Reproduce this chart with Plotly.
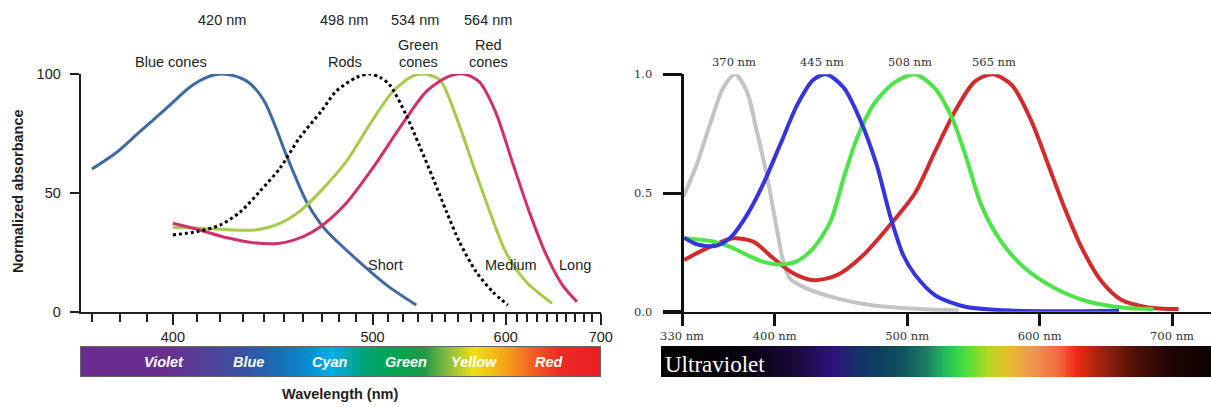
import numpy as np
import plotly.graph_objects as go

W, H = 1211, 407

# ---------------- data ----------------
# Left panel: normalized absorbance (0-100) vs wavelength (nm)
BLUE_CONE_NM = [370, 379, 387, 397.5, 407, 414, 420, 426, 432, 437, 441, 446, 451, 462, 469, 474, 488, 509, 529]
BLUE_CONE_V = [60, 67.3, 75.5, 85.6, 94.5, 98.6, 100, 99.3, 97, 92.8, 87.5, 77.5, 66.5, 46, 37.5, 33, 23.4, 11.2, 2.8]
ROD_NM = [400, 410, 420, 429, 438, 448, 458, 470, 478, 490, 498, 505, 511, 522, 531, 541, 551, 561, 574.5, 588.5, 602]
ROD_V = [32.3, 33.7, 36.5, 42, 50.5, 60.3, 73, 84.5, 92.6, 98.5, 100, 98.5, 95.4, 82.7, 70.1, 56.1, 42.1, 29.4, 16.8, 8.4, 2.8]
GREEN_CONE_NM = [400, 411, 423, 436, 448, 458, 469, 484, 498, 513, 526, 534, 546, 558, 572, 586, 600, 619, 645]
GREEN_CONE_V = [35.5, 35.1, 34.5, 34.4, 37.2, 42.1, 50.3, 63.1, 78.5, 92.6, 99, 100, 97.5, 82.7, 61.7, 42.1, 25.2, 12.6, 3.5]
RED_CONE_NM = [400, 411, 423, 435, 448, 460, 469, 484, 500, 517.5, 536, 552, 564, 577, 591, 606, 622, 639, 656, 672]
RED_CONE_V = [37.2, 34.4, 31.1, 29, 28.8, 31.6, 35.5, 45.6, 60.3, 77.2, 92.6, 98.8, 100, 96.8, 84.1, 63.1, 42.1, 23.9, 11.2, 4.2]

LEFT_X_TICKS = [400, 500, 600, 700]
LEFT_X_MINOR = [370, 380, 390, 410, 420, 430, 440, 450, 460, 470, 480, 490, 510, 520, 530, 540,
                550, 560, 570, 580, 590, 610, 620, 630, 640, 650, 660, 670, 680, 690]
LEFT_Y_TICKS = [0, 50, 100]
LEFT_PEAKS = ["420 nm", "498 nm", "534 nm", "564 nm"]
BAND_NAMES = ["Violet", "Blue", "Cyan", "Green", "Yellow", "Red"]

# Right panel: relative sensitivity (0-1) vs wavelength (nm)
UV_NM = [331, 341, 351, 361, 370, 379, 386, 394, 401.5, 406.5, 411.5, 424, 447, 472, 510, 539]
UV_V = [0.485, 0.618, 0.787, 0.941, 1.0, 0.927, 0.772, 0.576, 0.351, 0.211, 0.14, 0.098, 0.056, 0.028, 0.011, 0.005]
S_NM = [331.7, 341, 355, 366, 379, 391, 404, 417, 429, 439, 452, 464, 477, 487, 497, 506, 521, 544, 581, 620, 660]
S_V = [0.312, 0.284, 0.277, 0.309, 0.407, 0.534, 0.702, 0.871, 0.976, 1.0, 0.944, 0.815, 0.618, 0.407, 0.239, 0.155, 0.070, 0.021, 0.004, 0.002, 0.004]
M_NM = [331.7, 354, 366, 379, 391, 404, 417, 429, 442, 452, 462, 474.5, 489.5, 506, 521, 534, 544, 556, 571, 589, 612, 637, 662, 686]
M_V = [0.309, 0.295, 0.274, 0.239, 0.211, 0.199, 0.213, 0.267, 0.379, 0.562, 0.730, 0.871, 0.962, 1.0, 0.941, 0.815, 0.66, 0.449, 0.295, 0.183, 0.098, 0.042, 0.018, 0.011]
L_NM = [331.7, 348.6, 368.7, 383.8, 399, 414, 429, 447, 467, 487, 506, 521, 536, 551, 564.3, 579, 594, 606.6, 619, 632, 647, 662, 682, 705]
L_V = [0.218, 0.267, 0.309, 0.295, 0.225, 0.162, 0.133, 0.154, 0.239, 0.365, 0.50, 0.674, 0.843, 0.969, 1.0, 0.955, 0.801, 0.618, 0.435, 0.267, 0.126, 0.049, 0.018, 0.011]

RIGHT_X_TICKS = [330, 400, 500, 600, 700]
RIGHT_Y_TICKS = [0.0, 0.5, 1.0]
RIGHT_PEAKS = ["370 nm", "445 nm", "508 nm", "565 nm"]

# ---------------- styles ----------------
LEFT_SCALE = [
    [0.0, "#6b2c8f"], [0.166, "#6a2e91"], [0.249, "#4f449b"], [0.318, "#3553a3"],
    [0.386, "#1670b8"], [0.441, "#0590d2"], [0.482, "#00aeea"], [0.545, "#00a47a"],
    [0.599, "#00a651"], [0.661, "#1e9a48"], [0.702, "#80b842"], [0.757, "#efe014"],
    [0.819, "#f7a21b"], [0.866, "#f26522"], [0.921, "#ee2a24"], [1.0, "#ed1c24"],
]
RIGHT_SCALE = [
    [0.0, "#000000"], [0.153, "#07020d"], [0.253, "#1c0a40"], [0.316, "#2d1480"],
    [0.356, "#16306a"], [0.398, "#0c3f5f"], [0.444, "#11565e"], [0.48, "#1a7a62"],
    [0.522, "#25c45c"], [0.556, "#4fe03a"], [0.596, "#b6d824"], [0.631, "#e8bc2c"],
    [0.671, "#f09a50"], [0.722, "#f26a40"], [0.755, "#f02a12"], [0.795, "#a82410"],
    [0.855, "#551208"], [0.92, "#240505"], [1.0, "#0a0000"],
]

SANS = "Liberation Sans, Arial, Helvetica, sans-serif"
SERIF = "DejaVu Serif, serif"
INK = "#231f20"


def px(x):
    return x / W


def py(y):
    return 1 - y / H


def inv(nm):
    # reciprocal (wavenumber-like) scale used by the left panel's axis
    return -1000.0 / np.asarray(nm, dtype=float)


# right-panel linear scale: pixel = 245 + 1.3243 * nm
R_A, R_B = 245.0, 1.3243

fig = go.Figure()

left_series = [
    (BLUE_CONE_NM, BLUE_CONE_V, "#3f6aa2", "solid"),
    (GREEN_CONE_NM, GREEN_CONE_V, "#a6ca4a", "solid"),
    (RED_CONE_NM, RED_CONE_V, "#d1306d", "solid"),
    (ROD_NM, ROD_V, "#000000", "dot"),
]
for nm, v, col, dash in left_series:
    fig.add_trace(go.Scatter(x=inv(nm), y=v, mode="lines", xaxis="x", yaxis="y",
                             line=dict(color=col, width=3, dash=dash, shape="spline", smoothing=0.8),
                             hoverinfo="skip", showlegend=False))

right_series = [
    (UV_NM, UV_V, "#c4c4c4"),
    (L_NM, L_V, "#d22b2b"),
    (M_NM, M_V, "#4de447"),
    (S_NM, S_V, "#3535dd"),
]
for nm, v, col in right_series:
    fig.add_trace(go.Scatter(x=nm, y=v, mode="lines", xaxis="x2", yaxis="y2",
                             line=dict(color=col, width=4, shape="spline", smoothing=0.8),
                             hoverinfo="skip", showlegend=False))

N = 600
grad = np.linspace(0, 1, N)
fig.add_trace(go.Heatmap(z=[grad], x=grad, y=[0], colorscale=LEFT_SCALE, showscale=False,
                         xaxis="x3", yaxis="y3", hoverinfo="skip"))
fig.add_trace(go.Heatmap(z=[grad], x=grad, y=[0], colorscale=RIGHT_SCALE, showscale=False,
                         xaxis="x4", yaxis="y4", hoverinfo="skip"))

hidden = dict(showgrid=False, zeroline=False, showticklabels=False, ticks="", automargin=False)

fig.update_layout(
    template="none",
    width=W, height=H, margin=dict(l=0, r=0, t=0, b=0, pad=0, autoexpand=False),
    paper_bgcolor="white", plot_bgcolor="rgba(0,0,0,0)", showlegend=False,
    xaxis=dict(domain=[px(80.7), px(601)], range=[inv(366.2), inv(700.3)], anchor="y", automargin=False,
               showline=True, linecolor=INK, linewidth=2, showgrid=False, zeroline=False,
               tickmode="array", tickvals=inv(LEFT_X_TICKS), ticktext=[str(t) for t in LEFT_X_TICKS],
               ticks="outside", ticklen=11, tickwidth=1.5, tickcolor=INK,
               tickfont=dict(family=SANS, size=14.5, color=INK),
               minor=dict(tickmode="array", tickvals=inv(LEFT_X_MINOR), ticks="outside",
                          ticklen=8, tickwidth=1.5, tickcolor=INK)),
    yaxis=dict(domain=[py(311.7), py(74)], range=[0, 100], anchor="x", automargin=False,
               showline=True, linecolor=INK, linewidth=2, showgrid=False, zeroline=False,
               tickmode="array", tickvals=LEFT_Y_TICKS, ticks="outside", ticklen=9,
               tickwidth=1.5, tickcolor=INK, ticklabelstandoff=6,
               tickfont=dict(family=SANS, size=14.5, color=INK)),
    xaxis2=dict(domain=[px(663), 1.0], range=[(663 - R_A) / R_B, (1211 - R_A) / R_B], anchor="y2",
                automargin=False,
                showline=True, linecolor="#111111", linewidth=2, showgrid=False, zeroline=False,
                tickmode="array", tickvals=RIGHT_X_TICKS, ticktext=[f"{t} nm" for t in RIGHT_X_TICKS],
                ticks="outside", ticklen=12, tickwidth=2.5, tickcolor="#111111",
                tickfont=dict(family=SERIF, size=11.5, color="#333333")),
    yaxis2=dict(domain=[py(311.7), py(74.3)], range=[0, 1], anchor="free", position=px(682.3),
                automargin=False,
                showline=True, linecolor="#111111", linewidth=2.5, showgrid=False, zeroline=False,
                tickmode="array", tickvals=RIGHT_Y_TICKS, ticktext=[f"{t:.1f}" for t in RIGHT_Y_TICKS],
                ticks="outside", ticklen=19, tickwidth=2.5, tickcolor="#111111", ticklabelstandoff=8,
                tickfont=dict(family=SERIF, size=11.5, color="#333333")),
    xaxis3=dict(domain=[px(81), px(600)], range=[0, 1], anchor="y3", showline=True, mirror=True,
                linecolor="#666666", linewidth=1, **hidden),
    yaxis3=dict(domain=[py(376), py(347)], range=[-0.5, 0.5], anchor="x3", showline=True, mirror=True,
                linecolor="#666666", linewidth=1, **hidden),
    xaxis4=dict(domain=[px(661), 1.0], range=[0, 1], anchor="y4", showline=False, **hidden),
    yaxis4=dict(domain=[py(377), py(346)], range=[-0.5, 0.5], anchor="x4", showline=False, **hidden),
)

ann = []


def label(text, x, y, size=14.5, family=SANS, color=INK, **kw):
    ann.append(dict(text=text, x=px(x), y=py(y), xref="paper", yref="paper", showarrow=False,
                    xanchor=kw.pop("xanchor", "center"), yanchor="middle",
                    font=dict(family=family, size=size, color=color), **kw))


# left panel labels
for t, x in zip(LEFT_PEAKS, [222, 344, 415, 488]):
    label(t, x, 20)
label("Blue cones", 170.5, 62)
label("Rods", 345, 62)
label("Green", 418, 45)
label("cones", 418, 62)
label("Red", 488.5, 45)
label("cones", 488.5, 62)
label("Short", 386, 265)
label("Medium", 511, 265)
label("Long", 575, 265)
label("<b>Normalized absorbance</b>", 18, 191, textangle=-90)
label("<b>Wavelength (nm)</b>", 340, 394)
for t, x in zip(BAND_NAMES, [164, 248, 330, 406, 474, 549]):
    label(f"<b><i>{t}</i></b>", x, 361.5, size=14.5, color="white")

# right panel labels
for t, x in zip(RIGHT_PEAKS, [733.5, 822, 910, 994]):
    label(t, x, 61.5, size=11.5, family=SERIF, color="#333333")
label("Ultraviolet", 663, 364, size=23, family="Liberation Serif, serif",
      color="white", xanchor="left")

fig.update_layout(annotations=ann)
fig.write_html("out.html", config={"displayModeBar": False},
               post_script="document.body.style.margin='0px';")
